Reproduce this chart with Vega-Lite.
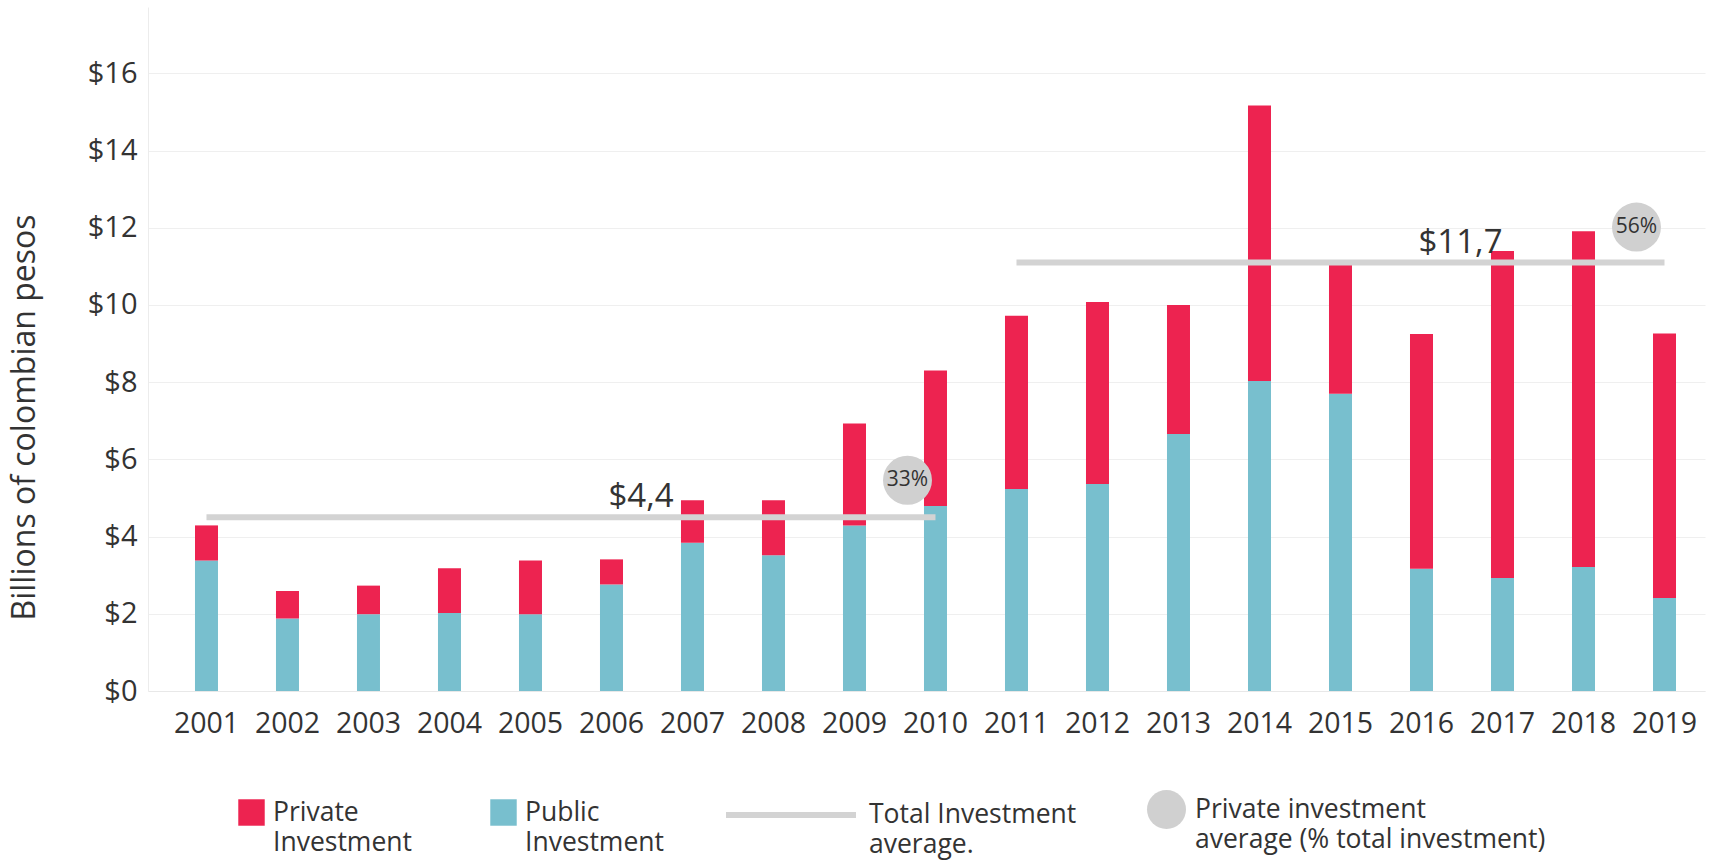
{
  "$schema": "https://vega.github.io/schema/vega-lite/v6.json",
  "width": 1557,
  "height": 684,
  "autosize": {"type": "none"},
  "padding": {"left": 148, "top": 7, "right": 14, "bottom": 169},
  "background": "white",
  "config": {
    "view": {"stroke": null},
    "font": "Open Sans",
    "axis": {"labelFont": "Open Sans", "titleFont": "Open Sans", "labelColor": "#333333", "titleColor": "#333333"},
    "legend": {"labelFont": "Open Sans", "labelColor": "#333333", "padding": 0}
  },
  "datasets": {
    "bars": [
      {"year": 2001, "type": "Public Investment", "value": 3.38},
      {"year": 2001, "type": "Private Investment", "value": 0.91},
      {"year": 2002, "type": "Public Investment", "value": 1.88},
      {"year": 2002, "type": "Private Investment", "value": 0.71},
      {"year": 2003, "type": "Public Investment", "value": 1.99},
      {"year": 2003, "type": "Private Investment", "value": 0.74},
      {"year": 2004, "type": "Public Investment", "value": 2.02},
      {"year": 2004, "type": "Private Investment", "value": 1.16},
      {"year": 2005, "type": "Public Investment", "value": 1.99},
      {"year": 2005, "type": "Private Investment", "value": 1.39},
      {"year": 2006, "type": "Public Investment", "value": 2.76},
      {"year": 2006, "type": "Private Investment", "value": 0.65},
      {"year": 2007, "type": "Public Investment", "value": 3.84},
      {"year": 2007, "type": "Private Investment", "value": 1.10},
      {"year": 2008, "type": "Public Investment", "value": 3.52},
      {"year": 2008, "type": "Private Investment", "value": 1.42},
      {"year": 2009, "type": "Public Investment", "value": 4.29},
      {"year": 2009, "type": "Private Investment", "value": 2.64},
      {"year": 2010, "type": "Public Investment", "value": 4.79},
      {"year": 2010, "type": "Private Investment", "value": 3.51},
      {"year": 2011, "type": "Public Investment", "value": 5.23},
      {"year": 2011, "type": "Private Investment", "value": 4.49},
      {"year": 2012, "type": "Public Investment", "value": 5.36},
      {"year": 2012, "type": "Private Investment", "value": 4.72},
      {"year": 2013, "type": "Public Investment", "value": 6.66},
      {"year": 2013, "type": "Private Investment", "value": 3.34},
      {"year": 2014, "type": "Public Investment", "value": 8.03},
      {"year": 2014, "type": "Private Investment", "value": 7.14},
      {"year": 2015, "type": "Public Investment", "value": 7.70},
      {"year": 2015, "type": "Private Investment", "value": 3.35},
      {"year": 2016, "type": "Public Investment", "value": 3.17},
      {"year": 2016, "type": "Private Investment", "value": 6.08},
      {"year": 2017, "type": "Public Investment", "value": 2.93},
      {"year": 2017, "type": "Private Investment", "value": 8.47},
      {"year": 2018, "type": "Public Investment", "value": 3.21},
      {"year": 2018, "type": "Private Investment", "value": 8.70},
      {"year": 2019, "type": "Public Investment", "value": 2.41},
      {"year": 2019, "type": "Private Investment", "value": 6.85}
    ],
    "avg": [
      {"start": 2001, "end": 2010, "avg": 4.5, "label": "$4,4", "label_year": 2006, "series": "Total Investment average."},
      {"start": 2011, "end": 2019, "avg": 11.1, "label": "$11,7", "label_year": 2016, "series": "Total Investment average."}
    ],
    "pct": [
      {"year": 2009, "value": 5.46, "label": "33%", "series": "Private investment average (% total investment)"},
      {"year": 2018, "value": 12.02, "label": "56%", "series": "Private investment average (% total investment)"}
    ]
  },
  "layer": [
    {
      "data": {"name": "bars"},
      "mark": {"type": "bar", "width": {"band": 0.284}},
      "encoding": {
        "x": {
          "field": "year", "type": "ordinal",
          "scale": {"paddingInner": 0, "paddingOuter": 0.111, "align": 1},
          "axis": {"title": null, "labelAngle": 0, "labelFontSize": 28.5, "labelPadding": 18, "ticks": false, "domain": true, "domainColor": "#e8e8e8", "grid": false}
        },
        "y": {
          "field": "value", "type": "quantitative", "stack": "zero",
          "scale": {"domain": [0, 17.72], "nice": false},
          "axis": {
            "title": "Billions of colombian pesos", "titleFontSize": 32, "titleFontWeight": "normal",
            "titleX": -107, "titleY": 410, "titleBaseline": "bottom",
            "values": [0, 2, 4, 6, 8, 10, 12, 14, 16], "labelExpr": "'$' + datum.value",
            "labelFontSize": 29, "labelPadding": 11, "ticks": false,
            "domain": true, "domainColor": "#ececec", "grid": true, "gridColor": "#efefef"
          }
        },
        "color": {
          "field": "type", "type": "nominal",
          "scale": {"domain": ["Private Investment", "Public Investment"], "range": ["#ED2350", "#78BFCE"]},
          "legend": {
            "orient": "none", "legendX": 90, "legendY": 792, "direction": "horizontal", "title": null,
            "symbolType": "square", "symbolSize": 700, "symbolStrokeWidth": 0, "symbolOpacity": 1,
            "labelFontSize": 26.5, "labelOffset": 8, "columnPadding": 78, "labelLimit": 400,
            "labelExpr": "split(datum.label, ' ')",
            "encode": {"labels": {"update": {"lineHeight": {"value": 30}}}}
          }
        },
        "order": {"field": "type", "sort": "descending"}
      }
    },
    {
      "data": {"name": "avg"},
      "mark": {"type": "rule", "strokeWidth": 6, "strokeCap": "butt"},
      "encoding": {
        "x": {"field": "start", "type": "ordinal"},
        "x2": {"field": "end"},
        "y": {"field": "avg", "type": "quantitative"},
        "stroke": {
          "field": "series", "type": "nominal",
          "scale": {"range": ["#D3D3D3"]},
          "legend": {
            "orient": "none", "legendX": 575, "legendY": 740, "title": null,
            "symbolType": "stroke", "symbolSize": 16900, "symbolStrokeWidth": 6,
            "labelFontSize": 26.5, "labelOffset": 10, "labelLimit": 400,
            "labelExpr": "['Total Investment', 'average.']",
            "encode": {"labels": {"update": {"lineHeight": {"value": 30}}}}
          }
        }
      }
    },
    {
      "data": {"name": "avg"},
      "mark": {"type": "text", "align": "left", "baseline": "alphabetic", "dx": -3, "dy": -10, "fontSize": 33, "color": "#333333"},
      "encoding": {
        "x": {"field": "label_year", "type": "ordinal"},
        "y": {"field": "avg", "type": "quantitative"},
        "text": {"field": "label"}
      }
    },
    {
      "data": {"name": "pct"},
      "mark": {"type": "point", "filled": true, "size": 2400, "xOffset": 53, "opacity": 1},
      "encoding": {
        "x": {"field": "year", "type": "ordinal"},
        "y": {"field": "value", "type": "quantitative"},
        "fill": {
          "field": "series", "type": "nominal",
          "scale": {"range": ["#D0D0D0"]},
          "legend": {
            "orient": "none", "legendX": 999, "legendY": 783, "title": null,
            "symbolType": "circle", "symbolSize": 1520, "symbolStrokeWidth": 0, "symbolOpacity": 1,
            "labelFontSize": 26.5, "labelOffset": 9, "labelLimit": 500,
            "labelExpr": "['Private investment', 'average (% total investment)']",
            "encode": {"labels": {"update": {"lineHeight": {"value": 30}}}}
          }
        }
      }
    },
    {
      "data": {"name": "pct"},
      "mark": {"type": "text", "xOffset": 53, "fontSize": 21, "color": "#333333", "baseline": "middle"},
      "encoding": {
        "x": {"field": "year", "type": "ordinal"},
        "y": {"field": "value", "type": "quantitative"},
        "text": {"field": "label"}
      }
    }
  ]
}
